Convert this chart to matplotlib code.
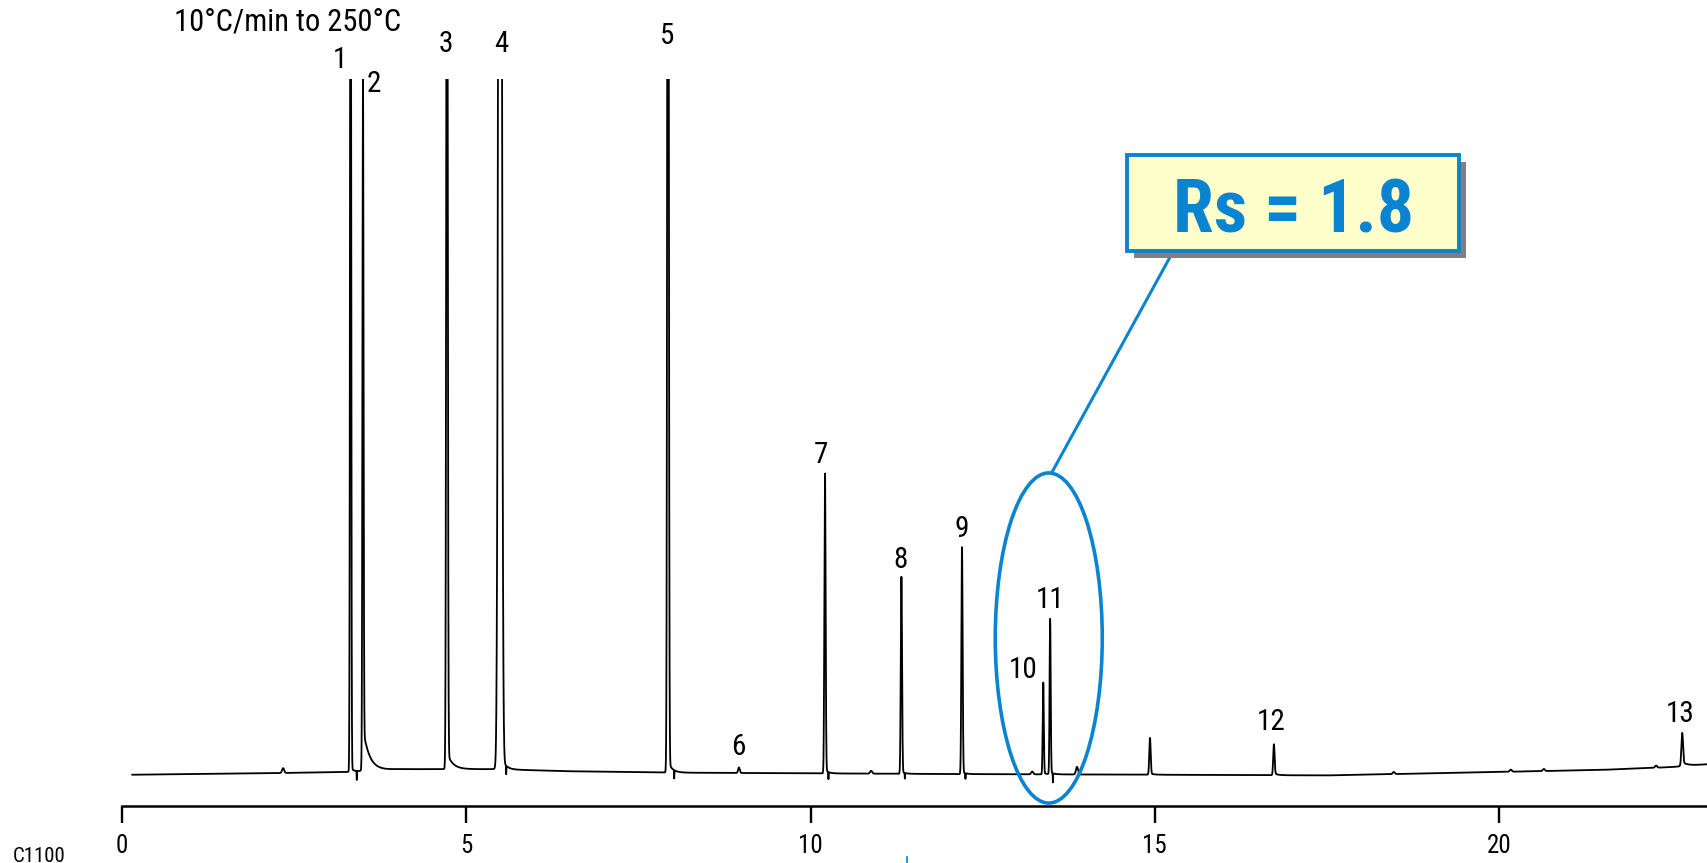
import numpy as np
import matplotlib
matplotlib.use('Agg')
import matplotlib.pyplot as plt
from matplotlib.patches import Ellipse, Rectangle
from matplotlib.lines import Line2D

plt.rcParams['font.family'] = ['Roboto Condensed', 'DejaVu Sans']
plt.rcParams['font.stretch'] = 'condensed'

myblue = '#0a84d0'

# main peaks: retention time (min), height (full scale = 100)
peak_rt     = [3.32, 3.50, 4.72, 5.49, 7.93, 8.96, 10.21, 11.32, 12.20, 13.38, 13.48, 14.93, 16.73, 22.66]
peak_height = [150, 96.4, 160, 300, 200, 0.8, 42.9, 28.2, 32.5, 13.1, 22.2, 5.2, 4.3, 4.5]
peak_sigma  = [0.008, 0.008, 0.010, 0.020, 0.010, 0.012, 0.009, 0.009, 0.009, 0.008, 0.008, 0.010, 0.010, 0.012]
tail_amp    = [0.5, 6.3, 2.4, 2.3, 1.6, 0.0, 0.5, 0.3, 0.3, 0.2, 0.3, 0.2, 0.3, 0.6]
tail_tau    = [0.05, 0.09, 0.08, 0.06, 0.06, 0.05, 0.05, 0.05, 0.05, 0.05, 0.05, 0.05, 0.05, 0.08]

# small bumps on the baseline
bump_rt     = [2.34, 10.88, 13.22, 13.87, 18.47, 20.17, 20.65, 22.28]
bump_height = [0.7, 0.4, 0.4, 1.1, 0.3, 0.3, 0.3, 0.3]

# short downward swings right after the big peaks
dip_rt      = [3.41, 5.58, 8.02, 10.26, 11.37, 12.25, 13.52]
dip_depth   = [1.3, 1.2, 1.2, 1.0, 0.8, 0.8, 1.3]

# baseline drift
base_t      = [0.15, 2.0, 3.3, 4.0, 5.4, 6.5, 8.0, 10.0, 12.0, 15.0, 17.5, 18.5, 20.0, 21.5, 22.5, 23.02]
base_level  = [-0.1, 0.1, 0.3, 0.7, 0.7, 0.4, 0.2, 0.1, 0.0, -0.1, -0.2, 0.0, 0.3, 0.6, 1.0, 1.4]

# peak numbers and where they are written
label_text = ['1', '2', '3', '4', '5', '6', '7', '8', '9', '10', '11', '12', '13']
label_x    = [3.17, 3.65, 4.71, 5.51, 7.92, 8.95, 10.15, 11.30, 12.19, 13.09, 13.48, 16.69, 22.63]
label_y    = [102.7, 99.3, 105.0, 105.0, 106.2, 3.9, 45.9, 30.8, 35.3, 15.0, 25.0, 7.5, 8.6]

xticks = [0, 5, 10, 15, 20]

t = np.arange(0.15, 23.03, 0.001)
y = np.interp(t, base_t, base_level)
for rt, h, s, a, tau in zip(peak_rt, peak_height, peak_sigma, tail_amp, tail_tau):
    y += h * np.exp(-0.5 * ((t - rt) / s) ** 2)
    step = 1.0 / (1.0 + np.exp(-np.clip((t - rt) / s, -50, 50)))
    y += a * step * np.exp(-np.clip(t - rt, 0, None) / tau)
for rt, h in zip(bump_rt, bump_height):
    y += h * np.exp(-0.5 * ((t - rt) / 0.015) ** 2)
for rt, d in zip(dip_rt, dip_depth):
    y -= d * np.exp(-0.5 * ((t - rt) / 0.002) ** 2)

fig = plt.figure(figsize=(17.07, 8.63), dpi=100)
ax = fig.add_axes([122/1707, 1 - 806/863, 1 - 122/1707, (806 - 79)/863])

ax.plot(t, y, color='black', linewidth=1.3)

ax.set_xlim(0, 23.02)
ax.set_ylim(-4.6, 100)
for side in ['top', 'left', 'right']:
    ax.spines[side].set_visible(False)
ax.spines['bottom'].set_linewidth(1.8)
ax.set_yticks([])
ax.set_xticks(xticks)
ax.set_xticklabels([str(v) for v in xticks])
ax.tick_params(axis='x', length=12, width=1.7, direction='out', labelsize=18, pad=8)

for s, lx, ly in zip(label_text, label_x, label_y):
    ax.text(lx, ly, s, fontsize=21, ha='center', va='center', clip_on=False)

ax.text(0.755, 108.2, '10\u00b0C/min to 250\u00b0C', fontsize=22, ha='left', va='center', clip_on=False)

# resolution callout
ax.add_patch(Ellipse((13.46, 19.57), 1.554, 47.5, fill=False, edgecolor=myblue, linewidth=2.6, clip_on=False, zorder=5))
ax.plot([13.50, 15.27], [43.3, 75.26], color=myblue, linewidth=2.2, zorder=5)
ax.add_patch(Rectangle((14.70, 74.26), 4.82, 13.81, facecolor='#808080', edgecolor='none', zorder=6))
ax.add_patch(Rectangle((14.60, 75.26), 4.82, 13.81, facecolor='#ffffcc', edgecolor=myblue, linewidth=2.8, zorder=7))
ax.text(17.01, 77.85, 'Rs = 1.8', color=myblue, fontsize=53, fontweight='bold', ha='center', va='baseline', zorder=8)

fig.text(13/1707, 1 - 856/863, 'C1100', fontsize=15, ha='left', va='center')
fig.add_artist(Line2D([907/1707, 907/1707], [0, 6/863], color=myblue, linewidth=1.2))

fig.savefig('out.png', dpi=100)
